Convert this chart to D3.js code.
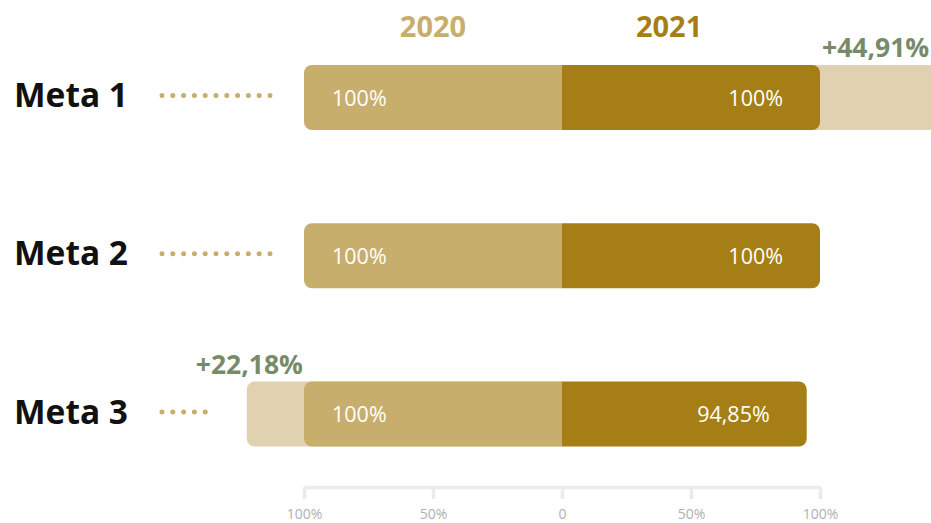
<!DOCTYPE html>
<html>
<head>
<meta charset="utf-8">
<script src="https://cdn.jsdelivr.net/npm/d3@7"></script>
<style>
  html, body { margin: 0; padding: 0; background: #ffffff; }
  svg { display: block; font-family: "Open Sans", "Noto Sans", sans-serif; }
</style>
</head>
<body>
<svg id="chart" width="931" height="523"></svg>
<script>
// Goals compared between two years; bars diverge from a shared zero line.
const metas = ["Meta 1", "Meta 2", "Meta 3"];
const years = ["2020", "2021"];
const values2020 = [100, 100, 100];
const values2021 = [100, 100, 94.85];
const extra2020 = [0, 0, 22.18];   // surplus shown beyond the 2020 bar
const extra2021 = [44.91, 0, 0];   // surplus shown beyond the 2021 bar
const tickValues = [-100, -50, 0, 50, 100];
const tickLabels = ["100%", "50%", "0", "50%", "100%"];

const colors = {
  y2020: "#c8ae6c",
  y2021: "#a57f15",
  surplus: "#e0d1b0",
  growth: "#788b69",
  dots: "#c8ae6c",
  axis: "#ebebeb",
  tick: "#b0b0b0"
};

const locale = d3.formatLocale({ decimal: ",", thousands: ".", grouping: [3], currency: ["R$", ""] });
const fmtInt = locale.format(".0f");
const fmtDec = locale.format(".2f");
const pct = v => (Number.isInteger(v) ? fmtInt(v) : fmtDec(v)) + "%";

const svg = d3.select("#chart");

const x = d3.scaleLinear().domain([-100, 100]).range([304, 820]);
const y = d3.scalePoint().domain(metas).range([97.5, 414]);
const barH = 65;
const r = 8;

// Rectangle path with optional rounding on the left and/or right side.
function barPath(x0, x1, yc, h, roundLeft, roundRight) {
  const top = yc - h / 2, bot = yc + h / 2;
  const rl = roundLeft ? r : 0, rr = roundRight ? r : 0;
  const p = d3.path();
  p.moveTo(x0 + rl, top);
  p.lineTo(x1 - rr, top);
  if (rr) p.arcTo(x1, top, x1, top + rr, rr);
  p.lineTo(x1, bot - rr);
  if (rr) p.arcTo(x1, bot, x1 - rr, bot, rr);
  p.lineTo(x0 + rl, bot);
  if (rl) p.arcTo(x0, bot, x0, bot - rl, rl);
  p.lineTo(x0, top + rl);
  if (rl) p.arcTo(x0, top, x0 + rl, top, rl);
  p.closePath();
  return p.toString();
}

// Year headers over each half
svg.selectAll("text.year")
  .data(years)
  .join("text")
  .attr("class", "year")
  .attr("x", (d, i) => i === 0 ? x(-50) : x(41.5))
  .attr("y", 37)
  .attr("text-anchor", "middle")
  .attr("font-size", 29)
  .attr("font-weight", 700)
  .attr("fill", (d, i) => i === 0 ? colors.y2020 : colors.y2021)
  .text(d => d);

const rows = svg.selectAll("g.row")
  .data(metas.map((m, i) => ({
    meta: m,
    v2020: values2020[i],
    v2021: values2021[i],
    e2020: extra2020[i],
    e2021: extra2021[i]
  })))
  .join("g")
  .attr("class", "row");

// Surplus bars behind the main bars
rows.filter(d => d.e2021 > 0).append("path")
  .attr("fill", colors.surplus)
  .attr("d", d => barPath(x(0), x(d.v2021 + d.e2021), y(d.meta), barH, false, true));
rows.filter(d => d.e2020 > 0).append("path")
  .attr("fill", colors.surplus)
  .attr("d", d => barPath(x(-(d.v2020 + d.e2020)), x(0), y(d.meta), barH, true, false));

// Main bars
rows.append("path")
  .attr("fill", colors.y2020)
  .attr("d", d => barPath(x(-d.v2020), x(0), y(d.meta), barH, true, false));
rows.append("path")
  .attr("fill", colors.y2021)
  .attr("d", d => barPath(x(0), x(d.v2021), y(d.meta), barH, false, true));

// Values inside the bars
rows.append("text")
  .attr("x", d => x(-d.v2020) + 28)
  .attr("y", d => y(d.meta) + 8)
  .attr("font-size", 21.5)
  .attr("fill", "#ffffff")
  .text(d => pct(d.v2020));
rows.append("text")
  .attr("x", d => x(d.v2021) - 37)
  .attr("y", d => y(d.meta) + 8)
  .attr("text-anchor", "end")
  .attr("font-size", 21.5)
  .attr("fill", "#ffffff")
  .text(d => pct(d.v2021));

// Growth labels above the surplus bars
rows.filter(d => d.e2021 > 0).append("text")
  .attr("x", d => x(d.v2021) + 2)
  .attr("y", d => y(d.meta) - barH / 2 - 8)
  .attr("font-size", 26.5)
  .attr("font-weight", 700)
  .attr("fill", colors.growth)
  .text(d => "+" + pct(d.e2021));
rows.filter(d => d.e2020 > 0).append("text")
  .attr("x", d => x(-d.v2020) - 1)
  .attr("y", d => y(d.meta) - barH / 2 - 8)
  .attr("text-anchor", "end")
  .attr("font-size", 26.5)
  .attr("font-weight", 700)
  .attr("fill", colors.growth)
  .text(d => "+" + pct(d.e2020));

// Row titles
rows.append("text")
  .attr("x", 14)
  .attr("y", d => y(d.meta) + 9.5)
  .attr("font-size", 33.5)
  .attr("font-weight", 700)
  .attr("fill", "#111111")
  .text(d => d.meta);

// Dotted leaders from title to bar
rows.append("line")
  .attr("x1", 162)
  .attr("x2", d => x(-(d.v2020 + d.e2020)) - 33)
  .attr("y1", d => y(d.meta) - 2)
  .attr("y2", d => y(d.meta) - 2)
  .attr("stroke", colors.dots)
  .attr("stroke-width", 5)
  .attr("stroke-linecap", "round")
  .attr("stroke-dasharray", "0 10.8");

// Bottom axis
const axis = d3.axisBottom(x)
  .tickValues(tickValues)
  .tickFormat((d, i) => tickLabels[i])
  .tickSizeInner(12)
  .tickSizeOuter(0)
  .tickPadding(10);

const gAxis = svg.append("g")
  .attr("transform", "translate(0,487)")
  .call(axis);
gAxis.select(".domain").attr("stroke", colors.axis).attr("stroke-width", 3.5);
gAxis.selectAll(".tick line").attr("stroke", colors.axis).attr("stroke-width", 3.5);
gAxis.selectAll(".tick text")
  .attr("fill", colors.tick)
  .attr("font-size", 14)
  .attr("font-family", "\"Open Sans\", sans-serif");
</script>
</body>
</html>
